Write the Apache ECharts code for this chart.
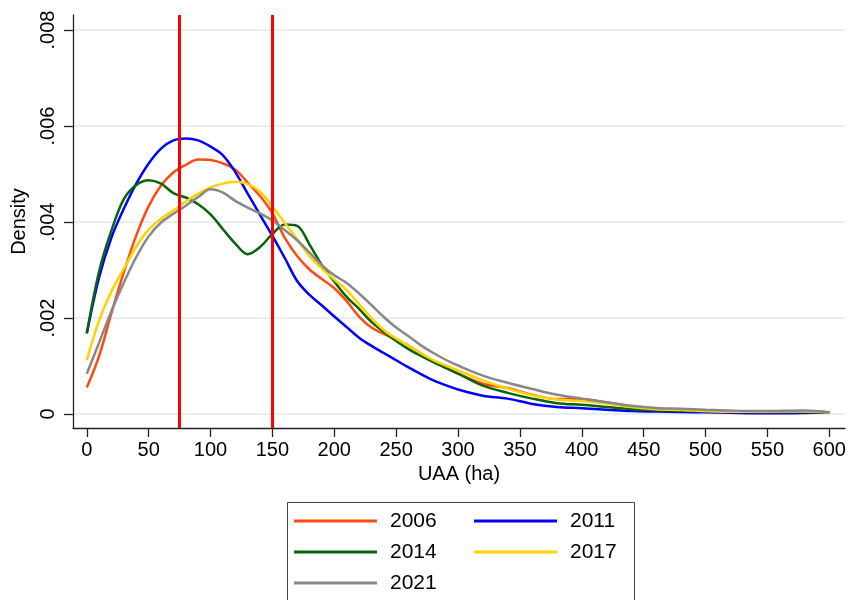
<!DOCTYPE html>
<html>
<head>
<meta charset="utf-8">
<script src="https://cdn.jsdelivr.net/npm/echarts@6/dist/echarts.min.js"></script>
<style>
html,body{margin:0;padding:0;background:#fff;}
#chart{width:850px;height:600px;}
</style>
</head>
<body>
<div id="chart"></div>
<script>
// ---- data ----
var xs = [0,10,20,30,40,50,60,70,80,90,100,110,120,130,140,150,160,170,180,190,200,210,220,230,240,250,260,270,280,290,300,320,340,360,380,400,420,440,460,480,500,520,540,560,580,600];

var d2006 = [0.00055,0.00121,0.00211,0.00296,0.00372,0.00433,0.00476,0.00503,0.00519,0.00530,0.00529,0.00522,0.00509,0.00482,0.00454,0.00418,0.00367,0.00329,0.00301,0.00281,0.00262,0.00235,0.00203,0.00180,0.00167,0.00155,0.00142,0.00126,0.00110,0.00096,0.00084,0.00063,0.00054,0.00040,0.00031,0.00031,0.00024,0.00016,0.00010,0.00008,0.00007,0.00006,0.00005,0.00005,0.00005,0.00003];

var d2011 = [0.00168,0.00285,0.00368,0.00428,0.00480,0.00522,0.00553,0.00570,0.00574,0.00570,0.00557,0.00539,0.00504,0.00459,0.00415,0.00371,0.00325,0.00277,0.00248,0.00226,0.00203,0.00181,0.00159,0.00142,0.00127,0.00112,0.00097,0.00083,0.00070,0.00060,0.00051,0.00038,0.00032,0.00021,0.000145,0.00012,0.00009,0.00006,0.00005,0.00004,0.000035,0.000025,0.000015,0.000015,0.00002,0.000035];

var d2014 = [0.00168,0.00298,0.00383,0.00448,0.00477,0.00487,0.00480,0.00460,0.00451,0.00437,0.00416,0.00385,0.00355,0.00333,0.00348,0.00375,0.00395,0.00392,0.00353,0.00310,0.00276,0.00244,0.00219,0.00192,0.00171,0.00152,0.00135,0.00121,0.00108,0.00096,0.00084,0.00059,0.00044,0.00032,0.000225,0.00019,0.000145,0.00010,0.00008,0.00007,0.000055,0.000045,0.00004,0.00004,0.00004,0.000035];

var d2017 = [0.00112,0.00195,0.00256,0.00303,0.00349,0.00384,0.00407,0.00424,0.00442,0.00459,0.00472,0.00480,0.00484,0.00479,0.00463,0.00432,0.00398,0.00364,0.00329,0.00303,0.00280,0.00258,0.00229,0.00200,0.00175,0.00157,0.00142,0.00126,0.00112,0.00101,0.00091,0.00070,0.00053,0.00039,0.00030,0.00027,0.00022,0.000145,0.00010,0.000085,0.00006,0.000045,0.000045,0.00005,0.00005,0.00003];

var d2021 = [0.00084,0.00149,0.00215,0.00274,0.00327,0.00370,0.00399,0.00417,0.00434,0.00452,0.00468,0.00461,0.00444,0.00430,0.00418,0.00403,0.00383,0.00362,0.00336,0.00310,0.00289,0.00273,0.00251,0.00227,0.00202,0.00180,0.00162,0.00143,0.00127,0.00113,0.00101,0.00080,0.00065,0.00052,0.00040,0.00032,0.000245,0.00017,0.000125,0.00011,0.00009,0.00007,0.000063,0.000065,0.00007,0.000035];

var seriesNames = ['2006','2011','2014','2017','2021'];
var seriesData = [d2006, d2011, d2014, d2017, d2021];
var seriesColors = ['#ff4a12','#0000ff','#0a640a','#ffd200','#888888'];

var cutoffs = [75, 150];
var xTicks = [0,50,100,150,200,250,300,350,400,450,500,550,600];
var yTicks = [0,0.002,0.004,0.006,0.008];
var yTickLabels = ['0','.002','.004','.006','.008'];

// ---- chart ----
var chart = echarts.init(document.getElementById('chart'), null, {renderer:'canvas'});
var font = 'Liberation Sans, Arial, sans-serif';

function pairs(arr){ return xs.map(function(x,i){ return [x, arr[i]]; }); }

var series = [];
seriesNames.forEach(function(n,i){
  var s = {
    name:n, type:'line', data:pairs(seriesData[i]), color:seriesColors[i],
    xAxisIndex:0, yAxisIndex:0,
    showSymbol:false, symbol:'none', smooth:0.35, z:3+i,
    lineStyle:{width:2.5, color:seriesColors[i]}
  };
  if (i === seriesNames.length - 1) {
    s.markLine = {
      z:20, silent:true, symbol:['none','none'], label:{show:false}, animation:false,
      lineStyle:{color:'#ff0000', width:3, type:'solid'},
      data: cutoffs.map(function(v){ return {xAxis:v}; })
    };
  }
  series.push(s);
});

var option = {
  animation:false,
  backgroundColor:'#ffffff',
  textStyle:{fontFamily:font},
  grid:[
    {left:73, top:15, width:772, height:413, containLabel:false},
    // background grid used only for the horizontal gridlines (0 .. .008)
    {left:73, top:30, width:772, height:384, containLabel:false}
  ],
  xAxis:[{
    gridIndex:0, type:'value', min:-11.15, max:612.7,
    axisLine:{show:true, onZero:false, lineStyle:{color:'#222', width:1.3}},
    axisTick:{show:true, customValues:xTicks, length:9, lineStyle:{color:'#222', width:1.3}},
    axisLabel:{customValues:xTicks, fontSize:20, color:'#000', margin:12, fontFamily:font},
    splitLine:{show:false},
    name:'UAA (ha)', nameLocation:'middle', nameGap:34,
    nameTextStyle:{fontSize:20, color:'#000', fontFamily:font}
  },{
    gridIndex:1, type:'value', min:0, max:1, show:false
  }],
  yAxis:[{
    gridIndex:0, type:'value', min:-0.000292, max:0.0083125,
    axisLine:{show:true, onZero:false, lineStyle:{color:'#222', width:1.3}},
    axisTick:{show:true, customValues:yTicks, length:9, lineStyle:{color:'#222', width:1.3}},
    axisLabel:{customValues:yTicks, rotate:90, fontSize:20, color:'#000', margin:15, fontFamily:font,
      formatter:function(v){
        for (var i=0;i<yTicks.length;i++){ if (Math.abs(yTicks[i]-v)<1e-9) return yTickLabels[i]; }
        return '';
      }},
    splitLine:{show:false},
    name:'Density', nameLocation:'middle', nameGap:44, nameRotate:90,
    nameTextStyle:{fontSize:20, color:'#000', fontFamily:font}
  },{
    gridIndex:1, type:'value', min:yTicks[0], max:yTicks[yTicks.length-1], interval:0.002, z:-1,
    axisLine:{show:false}, axisTick:{show:false}, axisLabel:{show:false},
    splitLine:{show:true, lineStyle:{color:'#e6eef1', width:2}}
  }],
  legend:{
    data:seriesNames, left:294, top:509.5, width:360, padding:0,
    icon:'rect', itemWidth:83, itemHeight:3, itemGap:8,
    textStyle:{fontSize:21, color:'#000', fontFamily:font, width:76, lineHeight:23, padding:[0,0,0,8]}
  },
  graphic:[{
    type:'rect', left:285, top:500, silent:true, z:-1,
    shape:{width:347, height:120},
    style:{fill:'none', stroke:'#444', lineWidth:1}
  }],
  series:series
};
chart.setOption(option);
</script>
</body>
</html>
